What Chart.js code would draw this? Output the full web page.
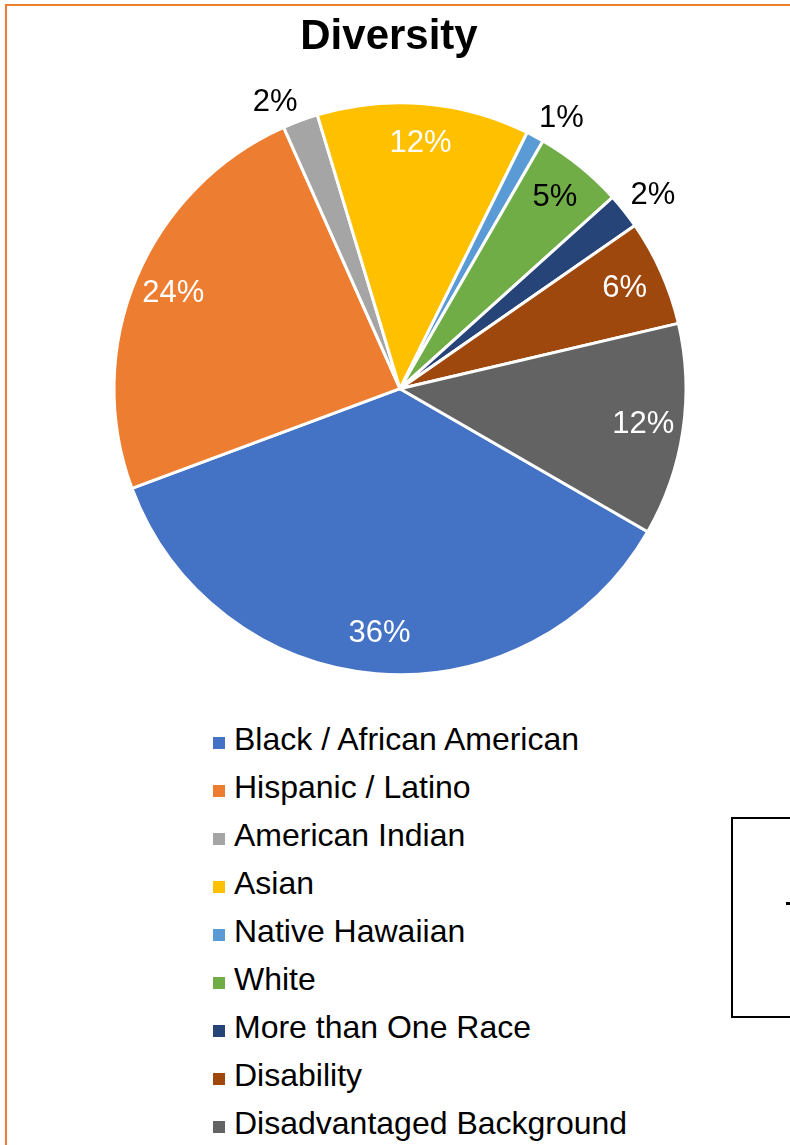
<!DOCTYPE html>
<html>
<head>
<meta charset="utf-8">
<script src="https://cdn.jsdelivr.net/npm/chart.js@4/dist/chart.umd.min.js"></script>
<style>
	body {
		margin: 0;
		background: #fff;
		width: 790px;
		height: 1145px;
		overflow: hidden;
		position: relative;
		font-family: "Liberation Sans", Arial, sans-serif;
	}
	#frame {
		position: absolute;
		left: 5px;
		top: 4px;
		width: 900px;
		height: 1300px;
		border: 2px solid #ed7d31;
	}
	#chart01 {
		position: absolute;
		left: 0;
		top: 0;
	}
	#legend01 {
		position: absolute;
		left: 213px;
		top: 715px;
		margin: 0;
		padding: 0;
		list-style: none;
	}
	#legend01 li {
		height: 48px;
		line-height: 48px;
		font-size: 32px;
		color: #000;
		white-space: nowrap;
	}
	#legend01 span {
		display: inline-block;
		width: 12px;
		height: 12px;
		margin-right: 9px;
		vertical-align: 1px;
	}
	#sidebox {
		position: absolute;
		left: 731px;
		top: 817px;
		width: 100px;
		height: 197px;
		border: 2px solid #000;
	}
	#sidebox i {
		position: absolute;
		left: 53px;
		top: 83px;
		width: 4px;
		height: 3px;
		background: #000;
	}
</style>
</head>
<body>
<div id="frame"></div>
<canvas id="chart01" width="790" height="715"></canvas>
<ul id="legend01"></ul>
<div id="sidebox"><i></i></div>
<script>
const categories = [
	"Black / African American",
	"Hispanic / Latino",
	"American Indian",
	"Asian",
	"Native Hawaiian",
	"White",
	"More than One Race",
	"Disability",
	"Disadvantaged Background",
];
const shares = [36, 24, 2, 12, 1, 5, 2, 6, 12];

const sliceColors = [
	"#4472c4",
	"#ed7d31",
	"#a5a5a5",
	"#ffc000",
	"#5b9bd5",
	"#70ad47",
	"#264478",
	"#9e480e",
	"#636363",
];

// small slices get their label outside the pie, dark text
const smallShare = 2;
const labelFont = "31px 'Liberation Sans', Arial, sans-serif";

const sliceLabels = {
	id: "sliceLabels",
	afterDatasetsDraw(chart) {
		const { ctx } = chart;
		const meta = chart.getDatasetMeta(0);
		ctx.save();
		ctx.font = labelFont;
		ctx.textAlign = "center";
		ctx.textBaseline = "middle";
		meta.data.forEach((arc, i) => {
			const value = shares[i];
			const text = value + "%";
			const { x, y, startAngle, endAngle, outerRadius } = arc.getProps(
				["x", "y", "startAngle", "endAngle", "outerRadius"],
				true
			);
			const mid = (startAngle + endAngle) / 2;
			const cos = Math.cos(mid);
			const sin = Math.sin(mid);
			if (value <= smallShare) {
				// outside end: label box sits just beyond the rim
				const w = ctx.measureText(text).width;
				const d = outerRadius + 8;
				ctx.fillStyle = "#000";
				ctx.fillText(text, x + cos * d + Math.sign(cos) * w / 2, y + sin * d + Math.sign(sin) * 11);
			} else {
				const d = outerRadius * 0.86;
				ctx.fillStyle = categories[i] === "White" ? "#000" : "#fff";
				ctx.fillText(text, x + cos * d, y + sin * d);
			}
		});
		ctx.restore();
	},
};

// empty box on the left so the pie sits a bit right of the title
const pieShift = {
	id: "pieShift",
	beforeInit(chart) {
		Chart.layouts.addBox(chart, {
			position: "left",
			weight: 0,
			fullSize: false,
			options: {},
			width: 22,
			height: 0,
			isHorizontal() {
				return false;
			},
			update(maxWidth, maxHeight) {
				this.width = 22;
				this.height = maxHeight;
			},
			draw() {},
		});
	},
};

const data = {
	labels: categories,
	datasets: [
		{
			data: shares,
			backgroundColor: sliceColors,
			borderColor: "#fff",
			borderWidth: 3,
			hoverOffset: 0,
			radius: 286,
		},
	],
};

const options = {
	responsive: false,
	animation: false,
	rotation: 120,
	layout: {
		padding: { left: 0, right: 12 },
	},
	plugins: {
		legend: { display: false },
		tooltip: { enabled: false },
		title: {
			display: true,
			text: "Diversity",
			color: "#000",
			font: { family: "'Liberation Sans', Arial, sans-serif", size: 42, weight: "bold" },
			padding: { top: 12, bottom: 0 },
		},
	},
};

const chart = new Chart(document.querySelector("#chart01"), {
	type: "pie",
	data,
	options,
	plugins: [pieShift, sliceLabels],
});

// legend as a plain list under the pie
const legendList = document.querySelector("#legend01");
chart.options.plugins.legend.labels.generateLabels(chart).forEach((item) => {
	const li = document.createElement("li");
	const box = document.createElement("span");
	box.style.background = item.fillStyle;
	li.appendChild(box);
	li.appendChild(document.createTextNode(item.text));
	legendList.appendChild(li);
});
</script>
</body>
</html>
